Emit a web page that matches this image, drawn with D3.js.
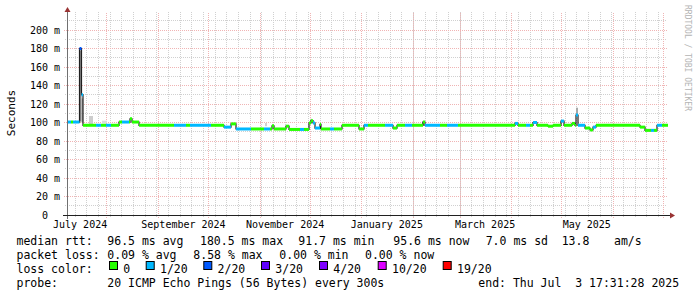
<!DOCTYPE html>
<html>
<head>
<meta charset="utf-8">
<script src="https://cdn.jsdelivr.net/npm/d3@7"></script>
<style>
  body { margin: 0; background: #fff; }
  svg text { font-family: "DejaVu Sans Mono", monospace; white-space: pre; }
</style>
</head>
<body>
<div id="chart"></div>
<script>
// median rtt as a step series: start day (from graph start), value in ms, loss bucket
const stepDay = [0, 1.8, 3, 6.9, 8.1, 9, 16.8, 19.8, 22.8, 25.8, 30.6, 32.4, 36.6, 37.2, 38.4,
  42.6, 63.6, 70.8, 73.2, 85.8, 93.6, 97.8, 100.8, 109.8, 117.6, 121.2, 122.4, 123.6, 130.8,
  132.6, 139.2, 141.6, 144.6, 145.8, 147, 148.2, 151.2, 151.8, 157.2, 159.6, 164.4, 174.6,
  177.6, 180, 190.2, 195, 197.4, 202.2, 206.4, 213, 214.2, 223.2, 227.4, 234, 268.2, 270,
  274.8, 277.2, 279, 281.4, 288, 291, 295.8, 297.6, 302.4, 304.2, 304.8, 306, 310.2, 313.2,
  315, 316.8, 343.2, 346.2, 349.8, 351.6, 353.4, 356.4];
const stepMs = [100.5, 100.5, 100.5, 180, 130, 97, 97, 97, 97, 97, 100.5, 100.5, 100.5, 104, 100.5,
  97, 97, 97, 97, 97, 95, 98.5, 93, 93, 93, 93, 96.5, 93, 96,
  92.5, 92.5, 92.5, 99.5, 102, 99.5, 94, 98, 93, 93, 93, 97, 93,
  97, 97, 97, 94, 97, 97, 97, 100.5, 97, 97, 97, 97, 99, 97,
  97, 97, 100, 97, 96, 97, 101.5, 97, 99, 97, 108, 97, 94, 92,
  95, 97, 95, 91.5, 91.5, 91.5, 97, 97];
const stepLoss = [1, 0, 1, 2, 1, 0, 1, 0, 1, 0, 0, 1, 0, 0, 0,
  0, 1, 0, 1, 0, 1, 0, 1, 0, 1, 0, 0, 0, 0,
  0, 1, 0, 0, 0, 1, 1, 0, 0, 1, 0, 0, 0,
  1, 0, 1, 0, 0, 1, 0, 0, 1, 0, 1, 0, 1, 0,
  1, 0, 1, 0, 0, 0, 1, 0, 0, 0, 1, 1, 0, 0,
  1, 0, 0, 0, 1, 0, 1, 0];

// smoke (ping spread) patches: start day, end day, low ms, high ms, shade
const smokeStart = [6.9, 8.1, 12.6, 20.4, 118.2, 145.2, 212.4, 304.8];
const smokeEnd = [8.1, 9, 15, 23.4, 119.4, 146.4, 213.6, 306];
const smokeLo = [101, 100, 98, 99, 96, 99, 97, 108];
const smokeHi = [178, 126, 107, 102, 99.5, 104, 101, 116];
const smokeShade = ['#8a8a8a', '#a8a8a8', '#cdcdcd', '#dddddd', '#d2d2d2', '#c0c0c0', '#909090', '#a8a8a8'];

const yTicks = [0, 20, 40, 60, 80, 100, 120, 140, 160, 180, 200];
const monthLabels = ['July 2024', 'September 2024', 'November 2024', 'January 2025', 'March 2025', 'May 2025'];

const lossLabels = ['0', '1/20', '2/20', '3/20', '4/20', '10/20', '19/20'];
const lossColors = ['#26ff00', '#00b8ff', '#0059ff', '#5e00ff', '#7e00ff', '#dd00ff', '#ff0000'];

const legendRows = [
  ['median rtt:', '96.5 ms avg', '180.5 ms max', '91.7 ms min', '95.6 ms now', '7.0 ms sd', '13.8', 'am/s'],
  ['packet loss:', '0.09 % avg', '8.58 % max', '0.00 % min', '0.00 % now'],
  ['probe:', '20 ICMP Echo Pings (56 Bytes) every 300s', 'end: Thu Jul  3 17:31:28 2025']
];

const width = 697, height = 297;
const endTime = new Date(2025, 6, 3, 17, 31, 28);
const startTime = new Date(+endTime - 360 * 86400000);
const dayToDate = d => new Date(+startTime + d * 86400000);

const x = d3.scaleTime().domain([startTime, endTime]).range([68, 668]);
const y = d3.scaleLinear().domain([0, 220]).range([215, 11.5]);
const px = v => Math.floor(v) + 0.5;

const svg = d3.select('#chart').append('svg')
    .attr('width', width)
    .attr('height', height);

svg.append('rect').attr('width', width).attr('height', height).attr('fill', '#fff');

// grid: minor then major
const minorY = d3.range(10, 220, 20);
svg.append('g').selectAll('line')
    .data(minorY)
    .enter().append('line')
    .attr('x1', 65).attr('x2', 667)
    .attr('y1', d => px(y(d))).attr('y2', d => px(y(d)))
    .attr('stroke', '#d0d0d0')
    .attr('stroke-dasharray', '1,1');

const weeks = d3.timeSaturday.range(startTime, endTime);
svg.append('g').selectAll('line')
    .data(weeks)
    .enter().append('line')
    .attr('x1', d => px(x(d))).attr('x2', d => px(x(d)))
    .attr('y1', 217).attr('y2', 12)
    .attr('stroke', '#d0d0d0')
    .attr('stroke-dasharray', '1,1');

svg.append('g').selectAll('line')
    .data(yTicks.slice(1))
    .enter().append('line')
    .attr('x1', 64).attr('x2', 667)
    .attr('y1', d => px(y(d))).attr('y2', d => px(y(d)))
    .attr('stroke', '#f0b4b4')
    .attr('stroke-dasharray', '1,1');

const months = d3.timeMonth.range(startTime, endTime);
svg.append('g').selectAll('line')
    .data(months)
    .enter().append('line')
    .attr('x1', d => px(x(d))).attr('x2', d => px(x(d)))
    .attr('y1', 218).attr('y2', 12)
    .attr('stroke', '#f0b4b4')
    .attr('stroke-dasharray', '1,1');

// smoke
svg.append('g').selectAll('rect')
    .data(smokeStart)
    .enter().append('rect')
    .attr('x', (d, i) => x(dayToDate(d)))
    .attr('width', (d, i) => x(dayToDate(smokeEnd[i])) - x(dayToDate(d)))
    .attr('y', (d, i) => y(smokeHi[i]))
    .attr('height', (d, i) => y(smokeLo[i]) - y(smokeHi[i]))
    .attr('fill', (d, i) => smokeShade[i]);

// median points with the end of the graph appended
const steps = stepDay.map((d, i) => ({ t: dayToDate(d), v: stepMs[i], loss: stepLoss[i] }));
const ends = steps.map((s, i) => i < steps.length - 1 ? steps[i + 1].t : endTime);

const medianLine = d3.line()
    .x(d => x(d.t))
    .y(d => y(d.v))
    .curve(d3.curveStepAfter);

svg.append('path')
    .datum(steps.concat([{ t: endTime, v: stepMs[stepMs.length - 1] }]))
    .attr('d', medianLine)
    .attr('fill', 'none')
    .attr('stroke', '#202020')
    .attr('stroke-width', 1.2);

svg.append('g').selectAll('line')
    .data(steps)
    .enter().append('line')
    .attr('x1', d => x(d.t))
    .attr('x2', (d, i) => x(ends[i]))
    .attr('y1', d => y(d.v)).attr('y2', d => y(d.v))
    .attr('stroke', d => lossColors[d.loss])
    .attr('stroke-width', 3);

// axes
svg.append('line')
    .attr('x1', 67.5).attr('x2', 67.5).attr('y1', 219).attr('y2', 11)
    .attr('stroke', '#707070');
svg.append('line')
    .attr('x1', 63).attr('x2', 671).attr('y1', 215.5).attr('y2', 215.5)
    .attr('stroke', '#202020');
svg.append('path')
    .attr('d', 'M64.5,12 L67.5,7 L70.5,12 Z')
    .attr('fill', '#993333');
svg.append('path')
    .attr('d', 'M670,212.5 L675,215.5 L670,218.5 Z')
    .attr('fill', '#993333');

// y tick labels
svg.append('g').selectAll('text')
    .data(yTicks)
    .enter().append('text')
    .attr('x', 60)
    .attr('y', d => y(d) + 3.5)
    .attr('text-anchor', 'end')
    .attr('font-size', '10px')
    .attr('fill', '#000')
    .text(d => d === 0 ? '0  ' : d + ' m');

// x labels at mid-month every two months
const labelDates = d3.timeMonth.every(2).range(new Date(2024, 6, 1), endTime)
    .map(d => d3.timeDay.offset(d, 15));
svg.append('g').selectAll('text')
    .data(labelDates)
    .enter().append('text')
    .attr('x', d => x(d))
    .attr('y', 228)
    .attr('text-anchor', 'middle')
    .attr('font-size', '10px')
    .text((d, i) => monthLabels[i]);

svg.append('text')
    .attr('transform', 'translate(14.5,113) rotate(-90)')
    .attr('text-anchor', 'middle')
    .attr('font-size', '11px')
    .text('Seconds');

svg.append('text')
    .attr('transform', 'translate(685,5) rotate(90)')
    .attr('font-size', '8px')
    .attr('fill', '#b4b4b4')
    .text('RRDTOOL / TOBI OETIKER');

// legend
const rowX = [
  [16.5, 107.3, 200, 298.3, 393.3, 485.7, 561.7, 614],
  [16.5, 107.3, 193.3, 279.3, 365],
  [16.5, 107.3, 478.3]
];
const rowY = [245, 259, 287];
legendRows.forEach((row, r) => {
  svg.append('g').selectAll('text')
      .data(row)
      .enter().append('text')
      .attr('x', (d, i) => rowX[r][i])
      .attr('y', rowY[r])
      .attr('font-size', '11.5px')
      .text(d => d);
});

svg.append('text')
    .attr('x', 16.5).attr('y', 273)
    .attr('font-size', '11.5px')
    .text('loss color:');

const boxX = [109, 145.7, 203.3, 261, 319, 377.7, 442.7];
const keys = svg.append('g').selectAll('g')
    .data(lossLabels)
    .enter().append('g')
    .attr('transform', (d, i) => `translate(${boxX[i]},0)`);
keys.append('rect')
    .attr('x', 0.5).attr('y', 261.5)
    .attr('width', 8).attr('height', 8)
    .attr('fill', (d, i) => lossColors[i])
    .attr('stroke', '#000');
keys.append('text')
    .attr('x', 14.3).attr('y', 273)
    .attr('font-size', '11.5px')
    .text(d => d);
</script>
</body>
</html>
